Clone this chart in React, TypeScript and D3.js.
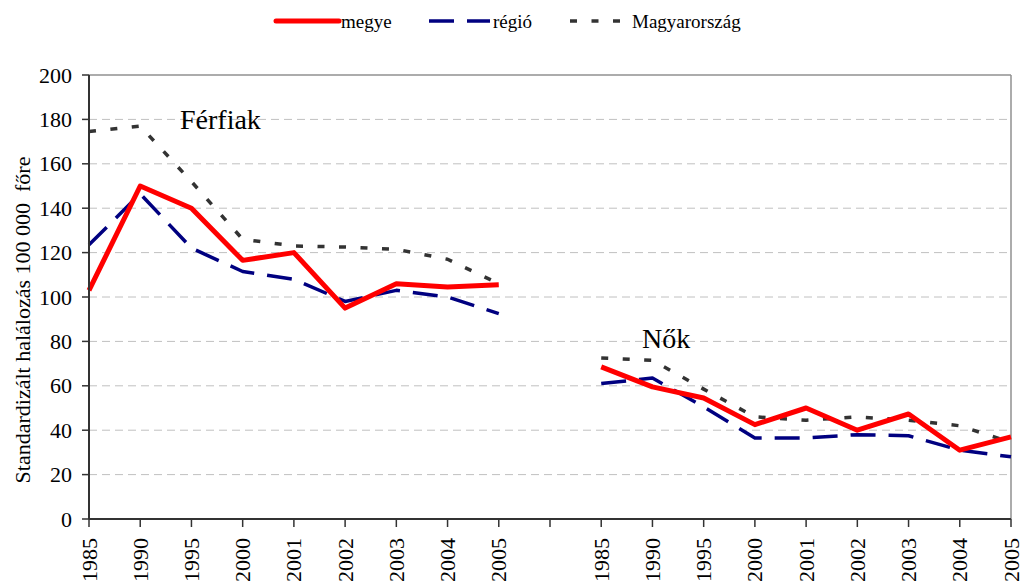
import React from "react";
import * as d3 from "d3";

const categories = ["1985","1990","1995","2000","2001","2002","2003","2004","2005","","1985","1990","1995","2000","2001","2002","2003","2004","2005"];
const megye = [103, 150, 140, 116.5, 120, 95, 106, 104.5, 105.5, null, 68.5, 59.5, 54.5, 42.5, 50, 40, 47.3, 31, 37];
const regio = [123.5, 146.5, 122, 111.5, 108, 98, 103, 100, 92.5, null, 61, 63.5, 50.5, 36.5, 36.5, 38, 37.5, 31, 28];
const magyarorszag = [174.5, 177, 152, 126, 123, 122.5, 121.5, 117, 106, null, 72.5, 71.5, 58.5, 46, 44.5, 46, 44.5, 42, 34.5];
const yTicks = [0, 20, 40, 60, 80, 100, 120, 140, 160, 180, 200];
const seriesNames = ["megye", "régió", "Magyarország"];

const W = 1021, H = 583;
const left = 89, right = 1011, top = 75, bottom = 519;
const FONT = '"Liberation Serif", "DejaVu Serif", "Times New Roman", Times, serif';

export default function App() {
  const idx = categories.map((_, i) => i);
  const x = d3.scalePoint<number>().domain(idx).range([left, right]);
  const y = d3.scaleLinear().domain([0, 200]).range([bottom, top]);
  const line = d3.line<number | null>()
    .defined(d => d !== null)
    .x((_, i) => x(i) as number)
    .y(d => y(d as number));

  const styles = [
    { data: magyarorszag, color: "#333333", width: 3.5, dash: "7,14.5" },
    { data: regio, color: "#000080", width: 3.5, dash: "25,13" },
    { data: megye, color: "#FF0000", width: 5, dash: "" },
  ];

  const legend = [
    { name: seriesNames[0], color: "#FF0000", width: 5, dash: "", x1: 276, x2: 339, tx: 341 },
    { name: seriesNames[1], color: "#000080", width: 3.5, dash: "25,13", x1: 429, x2: 490, tx: 493 },
    { name: seriesNames[2], color: "#333333", width: 3.5, dash: "7,14.5", x1: 570, x2: 628, tx: 632 },
  ];

  const tf = { fontFamily: FONT } as React.CSSProperties;

  return (
    <svg width={W} height={H} style={{ position: "absolute", left: 0, top: 0, background: "#fff", fontFamily: FONT }}>
      {yTicks.filter(t => t > 0 && t < 200).map(t => (
        <line key={t} x1={left} x2={right} y1={y(t)} y2={y(t)} stroke="#c0c0c0" strokeWidth={1} strokeDasharray="8,5" />
      ))}
      <line x1={left} x2={right} y1={y(200)} y2={y(200)} stroke="#909090" strokeWidth={1.5} />
      <line x1={right} x2={right} y1={y(200)} y2={bottom} stroke="#909090" strokeWidth={1.5} />
      {styles.map((s, k) => (
        <path key={k} d={line(s.data) || ""} fill="none" stroke={s.color} strokeWidth={s.width}
          strokeDasharray={s.dash || undefined} strokeLinejoin="round" />
      ))}
      <line x1={left} x2={left} y1={top} y2={bottom} stroke="#333" strokeWidth={2} />
      <line x1={left} x2={right} y1={bottom} y2={bottom} stroke="#333" strokeWidth={2} />
      {yTicks.map(t => (
        <g key={t}>
          <line x1={left - 7} x2={left} y1={y(t)} y2={y(t)} stroke="#333" strokeWidth={1.5} />
          <text x={72} y={y(t)} textAnchor="end" dominantBaseline="central" fontSize={22} fill="#000" style={tf}>{t}</text>
        </g>
      ))}
      {idx.map(i => (
        <g key={i}>
          <line x1={x(i)} x2={x(i)} y1={bottom} y2={bottom + 8} stroke="#333" strokeWidth={1.5} />
          {categories[i] && (
            <text transform={`translate(${x(i)},538) rotate(-90)`} textAnchor="end" dominantBaseline="central"
              fontSize={22} fill="#000" style={tf}>{categories[i]}</text>
          )}
        </g>
      ))}
      <text transform="translate(30,320) rotate(-90)" textAnchor="middle" fontSize={22} fill="#000" style={{ ...tf, whiteSpace: "pre" }}>
        {"Standardizált halálozás 100 000  főre"}
      </text>
      <text x={180} y={129} fontSize={28} fill="#000" style={tf}>Férfiak</text>
      <text x={642} y={348} fontSize={28} fill="#000" style={tf}>Nők</text>
      {legend.map((l, k) => (
        <g key={k}>
          <line x1={l.x1} x2={l.x2} y1={21} y2={21} stroke={l.color} strokeWidth={l.width}
            strokeDasharray={l.dash || undefined} strokeLinecap={l.dash ? "butt" : "round"} />
          <text x={l.tx} y={28} fontSize={19} fill="#000" style={tf}>{l.name}</text>
        </g>
      ))}
    </svg>
  );
}
